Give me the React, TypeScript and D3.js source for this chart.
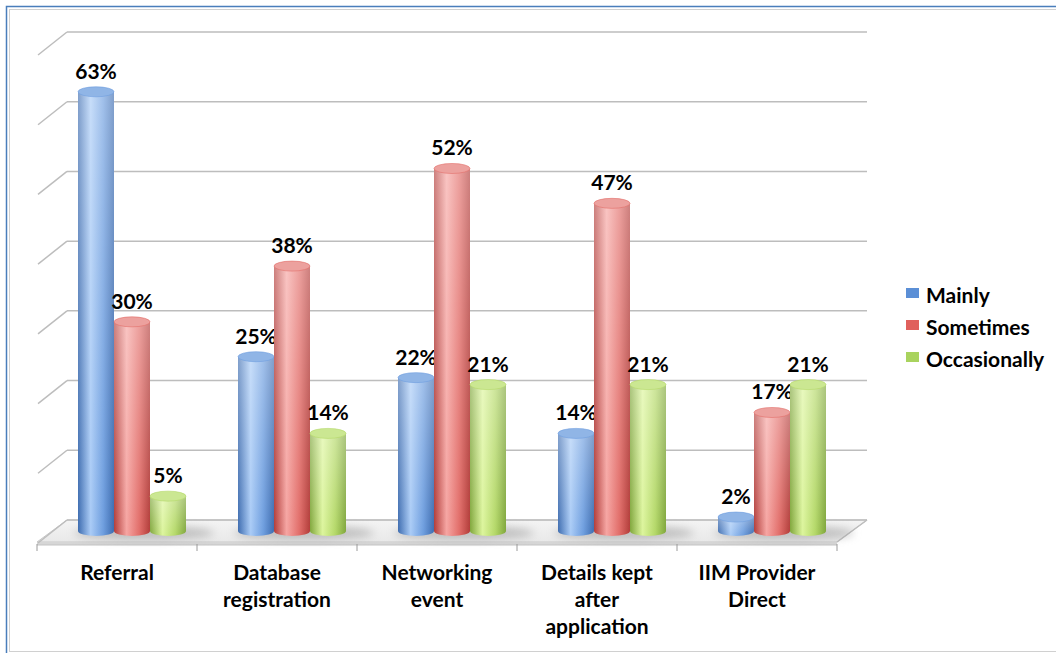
import * as d3 from 'd3';
import React from 'react';

const categories = [
  ['Referral'],
  ['Database', 'registration'],
  ['Networking', 'event'],
  ['Details kept', 'after', 'application'],
  ['IIM Provider', 'Direct'],
];
const seriesNames = ['Mainly', 'Sometimes', 'Occasionally'];
const mainly = [63, 25, 22, 14, 2];
const sometimes = [30, 38, 52, 47, 17];
const occasionally = [5, 14, 21, 21, 21];
const seriesValues = [mainly, sometimes, occasionally];
const gridTicks = [0, 10, 20, 30, 40, 50, 60, 70];

const palette = [
  { dark: '#3d6cb0', light: '#a9cbf6', mid: '#6e9edf', top: '#90b5e6', key: '#5b8fd6' },
  { dark: '#b23c39', light: '#f6a5a2', mid: '#e26e6a', top: '#eca19e', key: '#e0605c' },
  { dark: '#7fa63a', light: '#dcf59c', mid: '#b4d868', top: '#cbe792', key: '#a9d35e' },
];

const FONT = 'Lato, "Open Sans", sans-serif';
const FS = 21;
const DX = 30;
const DY = 22;

const App = () => {
  const width = 1056;
  const height = 653;

  const yBack = d3.scaleLinear().domain([0, 70]).range([520, 32]);
  const band = d3.scaleBand<number>().domain(d3.range(categories.length)).range([37, 837]);
  const inner = d3.scaleBand<number>().domain(d3.range(seriesNames.length)).range([-54, 54]);

  const backLeft = 37 + DX;
  const backRight = 837 + DX;
  const floorBack = yBack(0);
  const floorFront = floorBack + DY;
  const rx = inner.bandwidth() / 2;
  const ry = 5;

  return (
    <svg width={width} height={height} style={{ position: 'absolute', left: 0, top: 0 }}>
      <defs>
        {palette.map((p, i) => (
          <linearGradient key={i} id={`cyl${i}`} x1="0" x2="1" y1="0" y2="0">
            <stop offset="0" stopColor={p.dark} />
            <stop offset="0.35" stopColor={p.light} />
            <stop offset="0.7" stopColor={p.mid} />
            <stop offset="1" stopColor={p.dark} />
          </linearGradient>
        ))}
        <linearGradient id="sheen" x1="0" x2="0" y1="0" y2="1">
          <stop offset="0" stopColor="#fff" stopOpacity="0.35" />
          <stop offset="1" stopColor="#fff" stopOpacity="0" />
        </linearGradient>
        <linearGradient id="floorFill" x1="0" x2="0" y1="0" y2="1">
          <stop offset="0" stopColor="#f4f4f4" />
          <stop offset="1" stopColor="#e9e9e9" />
        </linearGradient>
        <filter id="blur" x="-20%" y="-100%" width="140%" height="300%">
          <feGaussianBlur stdDeviation="4" />
        </filter>
      </defs>

      <rect x={0} y={0} width={width} height={height} fill="#fff" />
      {/* frame */}
      <rect x={6.5} y={6.5} width={width} height={660} fill="none" stroke="#4a7ebb" strokeWidth={1.5} />
      <rect x={9.5} y={9.5} width={width} height={642} fill="none" stroke="#d0d0d0" strokeWidth={1} />

      {/* floor */}
      <polygon
        points={`${37},${floorFront} ${837},${floorFront} ${backRight},${floorBack} ${backLeft},${floorBack}`}
        fill="url(#floorFill)"
        stroke="#c8c8c8"
      />
      <rect x={37} y={floorFront} width={800} height={3} fill="#d6d6d6" />

      {/* back wall gridlines + left wall diagonals */}
      {gridTicks.map((t) => (
        <g key={t}>
          <line x1={backLeft} x2={backRight} y1={yBack(t)} y2={yBack(t)} stroke="#bdbdbd" strokeWidth={1.5} />
          <line x1={backLeft - DX + 1} x2={backLeft} y1={yBack(t) + DY + 1} y2={yBack(t)} stroke="#bdbdbd" strokeWidth={1.5} />
        </g>
      ))}
      <line x1={837} x2={backRight} y1={floorFront} y2={floorBack} stroke="#bdbdbd" strokeWidth={1.5} />

      {/* front axis ticks */}
      <line x1={37} x2={837} y1={floorFront + 3} y2={floorFront + 3} stroke="#c4c4c4" />
      {d3.range(categories.length + 1).map((i) => {
        const x = i < categories.length ? band(i)! : 837;
        return <line key={i} x1={x} x2={x} y1={floorFront + 2} y2={floorFront + 9} stroke="#9a9a9a" />;
      })}

      {/* shadows */}
      {categories.map((_, c) => {
        const cx = band(c)! + band.bandwidth() / 2 + DX / 2;
        return (
          <ellipse key={c} cx={cx + 12} cy={floorBack + DY / 2 + 2} rx={70} ry={7} fill="#9a9a9a" opacity={0.55} filter="url(#blur)" />
        );
      })}

      {/* cylinders */}
      {categories.map((_, c) =>
        seriesValues.map((vals, s) => {
          const v = vals[c];
          const cx = band(c)! + band.bandwidth() / 2 + DX / 2 + inner(s)! + rx;
          const base = yBack(0) + DY / 2;
          const top = yBack(v) + DY / 2;
          const x0 = cx - rx;
          const p = palette[s];
          const body = `M${x0},${top} L${x0},${base} A${rx},${ry} 0 0 0 ${cx + rx},${base} L${cx + rx},${top} Z`;
          return (
            <g key={`${c}-${s}`}>
              <path d={body} fill={`url(#cyl${s})`} />
              <path d={body} fill="url(#sheen)" />
              <ellipse cx={cx} cy={top} rx={rx} ry={ry} fill={p.top} stroke={p.mid} strokeWidth={0.6} />
              <text
                x={cx}
                y={top - ry - 8}
                textAnchor="middle"
                fontFamily={FONT}
                fontWeight={700}
                fontSize={FS}
                fill="#000"
              >
                {`${v}%`}
              </text>
            </g>
          );
        })
      )}

      {/* category labels */}
      {categories.map((lines, c) => (
        <text
          key={c}
          x={band(c)! + band.bandwidth() / 2}
          y={580}
          textAnchor="middle"
          fontFamily={FONT}
          fontWeight={700}
          fontSize={FS}
          fill="#000"
        >
          {lines.map((l, i) => (
            <tspan key={i} x={band(c)! + band.bandwidth() / 2} dy={i === 0 ? 0 : 27}>
              {l}
            </tspan>
          ))}
        </text>
      ))}

      {/* legend */}
      {seriesNames.map((name, i) => (
        <g key={name} transform={`translate(906, ${296 + i * 32})`}>
          <rect x={0} y={-8} width={13} height={10} fill={palette[i].key} />
          <text x={20} y={7} fontFamily={FONT} fontWeight={700} fontSize={FS} fill="#000">
            {name}
          </text>
        </g>
      ))}
    </svg>
  );
};

export default App;
